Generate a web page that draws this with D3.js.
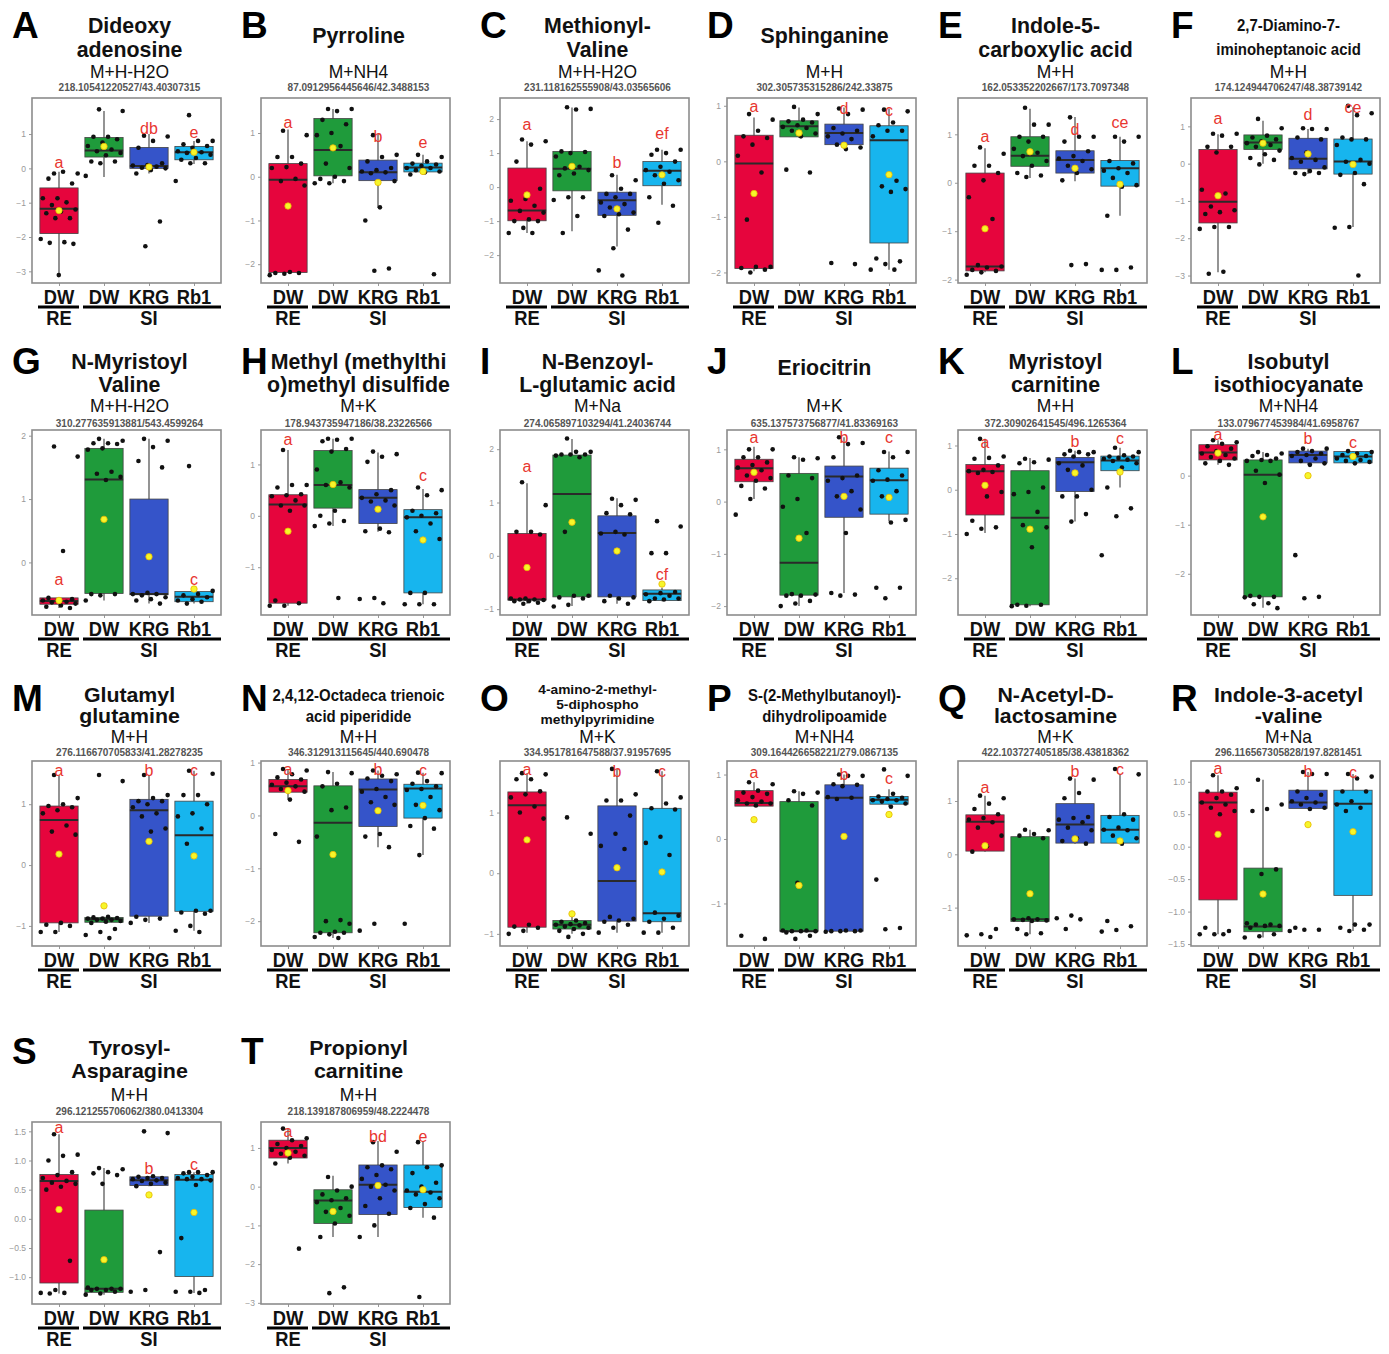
<!DOCTYPE html>
<html>
<head>
<meta charset="utf-8">
<script src="https://cdn.jsdelivr.net/npm/d3@7"></script>
<style>
body { margin: 0; background: #fff; }
text { font-family: "Liberation Sans", Arial, sans-serif; }
</style>
</head>
<body>
<svg id="chart"></svg>
<script>
// panel labels and titles
const panelIds = ["A","B","C","D","E","F","G","H","I","J","K","L","M","N","O","P","Q","R","S","T"];
const titleLines = [
	["Dideoxy","adenosine"], ["Pyrroline"], ["Methionyl-","Valine"], ["Sphinganine"],
	["Indole-5-","carboxylic acid"], ["2,7-Diamino-7-","iminoheptanoic acid"],
	["N-Myristoyl","Valine"], ["Methyl (methylthi","o)methyl disulfide"], ["N-Benzoyl-","L-glutamic acid"],
	["Eriocitrin"], ["Myristoyl","carnitine"], ["Isobutyl","isothiocyanate"],
	["Glutamyl","glutamine"], ["2,4,12-Octadeca trienoic","acid piperidide"],
	["4-amino-2-methyl-","5-diphospho","methylpyrimidine"], ["S-(2-Methylbutanoyl)-","dihydrolipoamide"],
	["N-Acetyl-D-","lactosamine"], ["Indole-3-acetyl","-valine"],
	["Tyrosyl-","Asparagine"], ["Propionyl","carnitine"]
];
const adducts = ["M+H-H2O","M+NH4","M+H-H2O","M+H","M+H","M+H","M+H-H2O","M+K","M+Na","M+K",
	"M+H","M+NH4","M+H","M+H","M+K","M+NH4","M+K","M+Na","M+H","M+H"];
const mzLabels = [
	"218.10541220527/43.40307315", "87.0912956445646/42.3488153", "231.118162555908/43.03565606",
	"302.305735315286/242.33875", "162.053352202667/173.7097348", "174.124944706247/48.38739142",
	"310.277635913881/543.4599264", "178.943735947186/38.23226566", "274.065897103294/41.24036744",
	"635.137573756877/41.83369163", "372.30902641545/496.1265364", "133.079677453984/41.6958767",
	"276.116670705833/41.28278235", "346.312913115645/440.690478", "334.951781647588/37.91957695",
	"309.164426658221/279.0867135", "422.103727405185/38.43818362", "296.116567305828/197.8281451",
	"296.121255706062/380.0413304", "218.139187806959/48.2224478"
];

// groups
const groupNames = ["DW","DW","KRG","Rb1"];
const treatNames = ["RE","SI"];
const groupColors = ["#e6053d","#1f9b3b","#3554c9","#17b5ee"];

// y axes
const yDomains = [
	[-3.34,2.05],[-2.43,1.80],[-2.82,2.62],[-2.19,1.14],[-2.07,1.75],[-3.2,1.76],
	[-0.83,2.09],[-1.93,1.67],[-1.11,2.36],[-2.17,1.37],[-2.83,1.35],[-2.84,0.93],
	[-1.33,1.71],[-2.47,1.03],[-1.2,1.85],[-1.66,1.21],[-1.72,1.75],[-1.53,1.32],
	[-1.46,1.66],[-3.03,1.67]
];
const yTicks = [
	[-3,-2,-1,0,1],[-2,-1,0,1],[-2,-1,0,1,2],[-2,-1,0,1],[-2,-1,0,1],[-3,-2,-1,0,1],
	[0,1,2],[-1,0,1],[-1,0,1,2],[-2,-1,0,1],[-2,-1,0,1],[-2,-1,0],
	[-1,0,1],[-2,-1,0,1],[-1,0,1],[-1,0,1],[-1,0,1],[-1.5,-1,-0.5,0,0.5,1],
	[-1,-0.5,0,0.5,1,1.5],[-3,-2,-1,0,1]
];

// box stats per group: [lower whisker, q1, median, q3, upper whisker]
const boxStats = [
	[[-3.08,-1.9,-1.18,-0.57,-0.1],[-0.25,0.33,0.52,0.9,1.67],[-0.15,0.0,0.07,0.61,1.0],[0.13,0.25,0.47,0.64,0.8]],
	[[-2.19,-2.19,-0.07,0.3,1.08],[-0.15,0.02,0.61,1.33,1.55],[-0.71,-0.09,0.1,0.38,0.98],[0.05,0.11,0.21,0.31,0.5]],
	[[-1.35,-0.99,-0.69,0.56,1.35],[-1.3,-0.11,0.54,1.05,2.34],[-1.75,-0.83,-0.39,-0.15,0.36],[-0.52,0.04,0.48,0.75,1.1]],
	[[-1.98,-1.93,-0.04,0.47,0.79],[0.42,0.44,0.63,0.73,0.97],[0.22,0.3,0.51,0.67,0.97],[-1.95,-1.47,0.38,0.64,0.95]],
	[[-1.85,-1.82,-1.73,0.2,0.71],[0.1,0.34,0.56,0.95,1.53],[0.03,0.2,0.47,0.66,1.36],[-0.68,-0.07,0.3,0.46,0.95]],
	[[-2.91,-1.59,-1.02,0.38,0.79],[0.0,0.38,0.57,0.77,1.15],[-0.28,-0.14,0.13,0.68,0.93],[-1.7,-0.28,0.06,0.66,1.51]],
	[[-0.72,-0.66,-0.61,-0.56,-0.56],[-0.6,-0.49,1.31,1.8,1.95],[-0.65,-0.51,-0.5,1.0,1.95],[-0.65,-0.62,-0.54,-0.46,-0.45]],
	[[-1.75,-1.7,0.22,0.41,1.28],[-0.2,0.15,0.6,1.27,1.5],[-0.31,-0.15,0.35,0.51,1.23],[-1.72,-1.5,-0.03,0.12,0.52]],
	[[-0.9,-0.83,-0.82,0.42,1.36],[-0.94,-0.77,1.16,1.89,2.19],[-0.9,-0.77,0.43,0.75,1.08],[-0.85,-0.84,-0.71,-0.64,-0.6]],
	[[0.05,0.38,0.64,0.81,1.05],[-2.0,-1.79,-1.17,0.54,0.85],[-1.75,-0.3,0.48,0.68,1.23],[-0.38,-0.24,0.41,0.64,0.96]],
	[[-0.98,-0.57,0.42,0.57,1.15],[-2.63,-2.6,-0.63,0.43,0.72],[-0.72,-0.04,0.62,0.73,0.88],[0.05,0.43,0.66,0.76,0.95]],
	[[0.22,0.32,0.47,0.63,0.72],[-2.69,-2.47,0.02,0.32,0.48],[0.22,0.26,0.42,0.5,0.55],[0.25,0.26,0.39,0.49,0.5]],
	[[-1.1,-0.95,0.74,0.97,1.48],[-0.95,-0.94,-0.89,-0.86,-0.85],[-0.95,-0.84,0.9,1.08,1.48],[-1.08,-0.76,0.49,1.05,1.55]],
	[[0.3,0.44,0.55,0.68,0.88],[-2.32,-2.22,-0.14,0.56,0.82],[-0.6,-0.21,0.49,0.69,0.85],[-0.75,-0.05,0.51,0.59,0.81]],
	[[-0.98,-0.89,1.12,1.34,1.65],[-1.0,-0.92,-0.85,-0.78,-0.72],[-0.98,-0.79,-0.13,1.11,1.72],[-0.98,-0.8,-0.66,1.07,1.68]],
	[[0.5,0.51,0.56,0.75,0.88],[-1.43,-1.43,-1.43,0.58,0.74],[-1.44,-1.43,0.64,0.84,1.0],[0.5,0.54,0.61,0.66,0.77]],
	[[0.05,0.06,0.61,0.74,1.1],[-1.5,-1.26,-1.22,0.33,0.46],[0.2,0.21,0.56,0.95,1.42],[0.2,0.21,0.46,0.73,1.5]],
	[[-1.35,-0.82,0.68,0.84,1.1],[-1.4,-1.31,-1.23,-0.33,1.03],[0.58,0.59,0.68,0.87,1.15],[-1.3,-0.75,0.66,0.87,1.12]],
	[[-1.28,-1.1,0.65,0.76,1.45],[-1.3,-1.26,-1.2,0.15,0.87],[0.56,0.57,0.66,0.72,0.73],[-1.27,-0.99,0.67,0.76,0.8]],
	[[0.6,0.74,1.0,1.2,1.5],[-1.3,-0.95,-0.36,-0.08,0.28],[-1.3,-0.72,0.05,0.56,1.18],[-0.8,-0.54,-0.13,0.56,1.18]]
];
const means = [
	[-1.23,0.64,0.04,0.47],[-0.67,0.66,-0.13,0.12],[-0.23,0.61,-0.64,0.36],[-0.58,0.51,0.29,-0.24],
	[-0.95,0.64,0.3,-0.03],[-0.86,0.55,0.26,-0.02],[-0.6,0.68,0.09,-0.42],[-0.3,0.61,0.13,-0.47],
	[-0.22,0.63,0.09,-0.53],[0.56,-0.7,0.1,0.08],[0.1,-0.89,0.38,0.4],[0.46,-0.84,0.0,0.39],
	[0.18,-0.67,0.39,0.15],[0.47,-0.74,0.09,0.19],[0.55,-0.67,0.09,0.02],[0.3,-0.72,0.04,0.38],
	[0.16,-0.74,0.29,0.25],[0.19,-0.73,0.34,0.23],[0.16,-0.7,0.41,0.11],[0.87,-0.64,0.03,-0.08]
];

// significance letters and the value they sit at
const letters = [
	["a","","db","e"],["a","","b","e"],["a","","b","ef"],["a","","d","c"],["a","","d","ce"],["a","","d","ce"],
	["a","","","c"],["a","","","c"],["a","","","cf"],["a","","b","c"],["a","","b","c"],["a","","b","c"],
	["a","","b","c"],["a","","b","c"],["a","","b","c"],["a","","b","c"],["a","","b","c"],["a","","b","c"],
	["a","","b","c"],["a","","bd","e"]
];
const letterY = [
	[0.18,null,1.17,1.05],[1.25,null,0.93,0.79],[1.83,null,0.74,1.59],[0.98,null,0.95,0.92],
	[0.96,null,1.1,1.25],[1.2,null,1.33,1.52],[-0.27,null,null,-0.27],[1.49,null,null,0.79],
	[1.67,null,null,-0.34],[1.22,null,1.22,1.22],[1.07,null,1.1,1.17],[0.84,null,0.76,0.68],
	[1.55,null,1.55,1.55],[0.88,null,0.88,0.86],[1.72,null,1.68,1.68],[1.03,null,1.0,0.94],
	[1.25,null,1.55,1.6],[1.2,null,1.16,1.15],[1.57,null,0.87,0.93],[1.44,null,1.31,1.31]
];

// individual samples per group
const points = [
	[[-0.15,-0.15,-0.1,-0.3,-0.44,-0.87,-0.87,-0.99,-1.07,-1.2,-1.26,-1.31,-1.45,-1.45,-2.06,-2.15,-2.17,-2.2,-3.11],
	 [1.72,1.67,0.92,0.92,0.85,0.75,0.65,0.55,0.5,0.45,0.38,0.2,0.2,0.15,-0.22],
	 [0.95,0.93,0.8,0.6,0.15,0.1,0.08,0.05,0.02,0.0,-0.05,-0.15,-1.55,-2.27],
	 [1.55,0.8,0.8,0.7,0.65,0.6,0.5,0.47,0.45,0.4,0.3,0.25,0.15,0.15,-0.37]],
	[[1.05,0.95,0.45,0.45,0.3,0.22,0.2,-0.05,-0.1,-0.2,-2.18,-2.2,-2.2,-2.22,-2.25],
	 [1.55,1.55,1.5,1.3,1.2,1.0,0.95,0.7,0.3,0.2,0.0,-0.05,-0.1,-0.15,-0.15],
	 [0.95,0.5,0.45,0.35,0.2,0.15,0.12,0.1,0.08,-0.1,-0.7,-1.0,-2.1,-2.15],
	 [0.5,0.45,0.35,0.3,0.28,0.25,0.2,0.2,0.15,0.12,0.1,0.05,-2.23]],
	[[1.4,1.35,1.25,0.75,-0.05,-0.35,-0.4,-0.55,-0.7,-0.75,-0.95,-1.0,-1.0,-1.2,-1.35,-1.35],
	 [2.35,2.3,2.28,1.05,1.03,1.0,0.9,0.6,0.55,0.5,0.4,0.35,-0.3,-0.3,-0.38,-0.85,-1.35],
	 [0.35,0.2,-0.05,-0.2,-0.2,-0.3,-0.45,-0.5,-0.6,-0.75,-0.8,-0.85,-1.25,-1.8,-2.45,-2.6],
	 [1.1,1.1,1.0,0.95,0.75,0.6,0.5,0.45,0.35,0.2,0.1,-0.3,-0.55,-1.05]],
	[[0.85,0.75,0.55,0.45,0.42,0.3,0.1,-0.2,-1.05,-1.9,-1.9,-1.92,-1.95,-2.0],
	 [0.98,0.85,0.75,0.72,0.7,0.65,0.62,0.6,0.55,0.5,0.45,-0.15,-0.2],
	 [0.95,0.93,0.85,0.6,0.55,0.5,0.45,0.4,0.3,0.25,0.22,-1.83,-1.85],
	 [0.93,0.9,0.7,0.65,0.55,0.55,0.45,-0.35,-0.45,-0.5,-0.55,-1.75,-1.8,-1.85,-1.95,-1.95]],
	[[0.73,0.6,0.35,0.35,0.2,0.05,-0.3,-0.75,-1.7,-1.73,-1.75,-1.8,-1.82,-1.85,-1.9],
	 [1.55,1.2,1.2,0.95,0.95,0.85,0.7,0.62,0.55,0.45,0.35,0.2,0.15,0.12],
	 [1.35,0.95,0.95,0.85,0.65,0.55,0.5,0.45,0.35,0.28,0.2,0.05,-1.68,-1.7],
	 [0.95,0.95,0.85,0.45,0.4,0.3,0.25,0.2,0.1,-0.05,-0.08,-0.68,-1.75,-1.8,-1.8]],
	[[0.8,0.8,0.75,0.45,0.45,0.3,-0.7,-0.8,-1.15,-1.25,-1.3,-1.35,-1.7,-1.7,-1.75,-2.9,-2.95],
	 [1.2,0.95,0.75,0.7,0.65,0.6,0.55,0.5,0.45,0.35,0.25,0.15,0.1,-0.02],
	 [0.95,0.93,0.93,0.7,0.65,0.3,0.15,0.1,0.05,-0.1,-0.2,-0.25,-0.25,-0.28],
	 [1.55,1.35,1.3,0.7,0.65,0.65,0.5,0.1,0.05,0.0,-0.25,-0.3,-0.55,-1.7,-1.72,-3.0]],
	[[1.83,1.67,0.18,-0.56,-0.58,-0.6,-0.6,-0.62,-0.63,-0.65,-0.68,-0.7,-0.72],
	 [1.95,1.92,1.88,1.88,1.87,1.8,1.78,1.43,1.4,1.35,1.3,-0.5,-0.5,-0.52,-0.6],
	 [1.95,1.92,1.82,1.6,1.5,-0.48,-0.5,-0.5,-0.52,-0.55,-0.58,-0.6,-0.65],
	 [1.52,-0.45,-0.5,-0.52,-0.55,-0.58,-0.6,-0.62,-0.65]],
	[[1.28,0.6,0.6,0.55,0.42,0.4,0.38,0.3,0.2,0.2,0.1,-1.65,-1.7,-1.75,-1.75],
	 [1.5,1.5,1.48,1.45,1.3,1.25,0.9,0.65,0.6,0.55,0.1,0.0,-0.1,-0.15,-0.2,-1.6],
	 [1.25,1.2,1.15,1.05,0.5,0.42,0.35,0.3,0.28,0.2,-0.25,-0.3,-0.32,-1.6,-1.62,-1.7],
	 [0.55,0.5,0.4,0.1,0.05,0.0,-0.03,-0.15,-0.3,-0.45,-1.5,-1.5,-1.72,-1.72,-1.72]],
	[[1.38,0.95,0.45,0.45,0.4,-0.8,-0.8,-0.82,-0.82,-0.83,-0.85,-0.85,-0.88,-0.9],
	 [2.2,1.95,1.95,1.9,1.9,1.9,1.88,1.85,0.45,-0.75,-0.75,-0.78,-0.8,-0.92,-0.95],
	 [1.07,1.05,0.95,0.8,0.78,0.45,0.42,0.4,-0.75,-0.78,-0.8,-0.85,-0.9],
	 [0.65,0.55,0.05,0.05,-0.68,-0.7,-0.72,-0.75,-0.8,-0.8,-0.82,-0.85]],
	[[1.0,1.0,0.85,0.85,0.75,0.7,0.65,0.6,0.5,0.45,0.4,0.3,0.25,0.05,-0.25],
	 [0.85,0.83,0.8,0.5,0.45,0.05,-0.1,-0.6,-1.77,-1.78,-1.8,-1.8,-1.9,-1.95,-2.0],
	 [1.23,1.12,1.1,0.85,0.5,0.45,0.4,0.2,0.1,-0.15,-0.6,-1.75,-1.78,-1.8],
	 [0.95,0.95,0.85,0.6,0.5,0.42,0.4,0.2,0.1,-0.35,-0.4,-1.65,-1.65,-1.85]],
	[[1.15,0.75,0.72,0.7,0.55,0.45,0.42,0.4,0.38,-0.05,-0.15,-0.7,-0.85,-0.88,-1.0],
	 [0.7,0.68,0.62,0.6,0.05,-0.05,-0.1,-0.5,-0.8,-0.85,-1.3,-2.6,-2.6,-2.62,-2.63],
	 [0.88,0.85,0.85,0.8,0.8,0.75,0.6,0.55,0.45,0.0,-0.15,-0.15,-0.55,-0.72],
	 [0.95,0.85,0.78,0.75,0.75,0.72,0.7,0.68,0.65,0.6,0.5,0.05,-0.42,-0.6,-1.48]],
	[[0.72,0.68,0.65,0.6,0.55,0.5,0.45,0.42,0.38,0.35,0.3,0.25,0.22],
	 [0.48,0.45,0.42,0.4,0.35,0.32,0.3,0.3,0.1,0.02,-0.15,-2.45,-2.47,-2.47,-2.48,-2.6,-2.62,-2.7],
	 [0.55,0.55,0.5,0.48,0.45,0.42,0.4,0.35,0.3,0.25,0.22,-1.62,-2.47,-2.5],
	 [0.5,0.48,0.45,0.42,0.4,0.38,0.35,0.32,0.3,0.28,0.25]],
	[[1.48,1.1,1.0,0.97,0.95,0.9,0.85,0.65,0.55,0.5,-0.95,-0.98,-1.0,-1.1,-1.1],
	 [1.48,1.38,-0.85,-0.86,-0.87,-0.88,-0.88,-0.9,-0.9,-0.92,-0.93,-0.95,-1.05,-1.1,-1.15,-1.2],
	 [1.48,1.15,1.1,1.05,1.05,1.0,0.95,0.85,0.8,0.6,0.55,-0.85,-0.88,-0.9,-0.95],
	 [1.55,1.5,1.15,1.15,1.0,0.85,0.8,0.6,0.35,-0.75,-0.75,-0.78,-0.8,-1.0,-1.08,-1.1]],
	[[0.88,0.85,0.78,0.72,0.68,0.62,0.58,0.55,0.5,0.45,0.3,-0.35,-0.5],
	 [0.82,0.8,0.6,0.55,0.15,0.1,-0.4,-1.98,-2.0,-2.05,-2.2,-2.22,-2.22,-2.25,-2.3,-2.32],
	 [0.85,0.78,0.75,0.7,0.65,0.5,0.45,0.35,0.25,0.2,-0.35,-0.4,-0.6,-2.05,-2.18],
	 [0.81,0.8,0.65,0.6,0.55,0.5,0.48,0.35,0.2,0.1,-0.05,-0.2,-0.25,-0.75,-2.05]],
	[[1.65,1.63,1.55,1.55,1.35,1.3,1.25,1.1,1.0,0.9,-0.85,-0.88,-0.9,-0.95,-1.0],
	 [0.92,0.65,-0.78,-0.8,-0.82,-0.84,-0.85,-0.86,-0.88,-0.9,-0.92,-0.95,-1.0,-1.05],
	 [1.72,1.3,1.2,1.2,0.95,0.65,0.45,0.4,-0.72,-0.75,-0.78,-0.8,-0.85,-0.9,-0.98],
	 [1.68,1.25,1.15,1.07,1.05,0.6,0.5,0.3,-0.65,-0.7,-0.75,-0.8,-0.9,-0.98,-0.98]],
	[[0.88,0.85,0.75,0.72,0.7,0.65,0.6,0.58,0.55,0.55,0.52,-1.5,-1.55],
	 [0.74,0.72,0.7,0.6,0.52,-0.68,-1.42,-1.42,-1.43,-1.43,-1.43,-1.45,-1.5,-1.55],
	 [1.0,0.98,0.98,0.85,0.84,0.82,0.65,0.64,0.62,-1.42,-1.42,-1.43,-1.43,-1.43,-1.44],
	 [1.08,0.98,0.7,0.66,0.64,0.62,0.6,0.6,0.58,0.55,0.5,-0.63,-1.38,-1.4]],
	[[1.1,1.05,0.95,0.85,0.75,0.68,0.65,0.6,0.5,0.35,0.15,0.05,-1.4,-1.5,-1.52,-1.55],
	 [0.46,0.45,0.38,0.35,0.3,-1.2,-1.22,-1.22,-1.23,-1.24,-1.25,-1.4,-1.48,-1.5],
	 [1.42,1.4,1.15,1.05,0.7,0.68,0.65,0.6,0.5,0.45,0.3,0.25,0.2,-1.15,-1.2,-1.22,-1.4],
	 [1.6,1.5,0.75,0.7,0.65,0.5,0.46,0.45,0.35,0.3,0.2,-1.25,-1.35,-1.42,-1.45]],
	[[1.1,0.9,0.85,0.85,0.8,0.75,0.68,0.65,0.6,0.55,0.5,-1.25,-1.3,-1.35,-1.35,-1.35],
	 [1.03,0.65,0.58,0.55,-0.35,-0.42,-1.18,-1.2,-1.2,-1.22,-1.22,-1.25,-1.35,-1.38,-1.4],
	 [1.15,1.12,1.12,0.85,0.8,0.75,0.7,0.68,0.65,0.6,0.58,-1.25,-1.28,-1.28,-1.3],
	 [1.12,1.08,1.05,0.85,0.85,0.7,0.65,0.6,0.55,-1.2,-1.2,-1.25,-1.28,-1.3]],
	[[1.45,1.1,1.08,1.0,0.8,0.75,0.7,0.65,0.62,0.6,0.55,0.5,-0.72,-1.22,-1.27,-1.27,-1.28],
	 [0.87,0.85,0.8,0.78,0.75,0.6,-1.18,-1.2,-1.2,-1.2,-1.22,-1.22,-1.25,-1.28,-1.3],
	 [1.5,1.47,0.73,0.72,0.7,0.7,0.68,0.66,0.65,0.62,0.6,0.56,-0.57,-1.22,-1.25],
	 [0.8,0.8,0.8,0.78,0.75,0.72,0.7,0.68,0.68,0.66,0.58,-0.33,-1.22,-1.25,-1.25,-1.27]],
	[[1.5,1.25,1.2,1.1,1.05,1.0,0.95,0.9,0.85,0.8,0.75,0.6,-1.6],
	 [0.25,0.0,-0.1,-0.2,-0.3,-0.35,-0.4,-0.55,-0.65,-0.75,-0.95,-1.3,-2.6,-2.75],
	 [1.15,0.9,0.55,0.5,0.45,0.3,0.2,0.05,0.0,-0.1,-0.3,-0.5,-0.7,-1.0,-1.3],
	 [1.15,0.55,0.5,0.35,0.1,0.0,-0.1,-0.15,-0.2,-0.3,-0.45,-0.55,-0.8,-2.85]]
];

// layout
const width = 1389, height = 1354;
const colLeft = [32, 261, 500, 727, 958, 1191],
	rowTop = [98, 430, 761, 1122],
	rowH = [185, 185, 185, 182],
	plotW = 189;
// vertical offsets of title pieces above each row's plot box
const rowText = [
	{t: [-73, -49], add: -26, mz: -11, letter: -60, size: 22.5, sx: 0.95},
	{t: [-69, -46], add: -24, mz: -7, letter: -56, size: 22.5, sx: 0.95},
	{t: [-66, -45], add: -24, mz: -9, letter: -50, size: 20.5, sx: 1.04},
	{t: [-74, -51], add: -27, mz: -11, letter: -58, size: 21, sx: 1.02}
];
const smallTitles = ["F", "N", "O", "P"];

const svg = d3.select("#chart").attr("width", width).attr("height", height);

// narrow-looking text: scale horizontally like the condensed font in the figure
function narrowText(g, x, y, str, size, weight, sx, fill) {
	return g.append("text")
		.attr("transform", `translate(${x},${y}) scale(${sx},1)`)
		.attr("text-anchor", "middle")
		.attr("dy", "0.35em")
		.attr("font-size", size)
		.attr("font-weight", weight)
		.attr("fill", fill)
		.text(str);
}

function jitter(j) {
	return ((j * 0.618034 + 0.37) % 1) - 0.5;
}

function drawPanel(i) {
	const row = Math.floor(i / 6), col = i % 6,
		rt = rowText[row],
		left = colLeft[col], top = rowTop[row],
		plotH = rowH[row],
		cx = left + plotW / 2 + 3;

	// panel letter
	svg.append("text")
		.attr("x", left - 20)
		.attr("y", top + rt.letter)
		.attr("font-size", 37)
		.attr("font-weight", "bold")
		.attr("fill", "#000")
		.text(panelIds[i]);

	// title lines
	const lines = titleLines[i],
		small = smallTitles.includes(panelIds[i]);
	let ys, size = rt.size, sx = rt.sx;
	if (lines.length == 1) { ys = [-63]; size = 22.5; sx = 0.95; }
	else if (lines.length == 3) { ys = [-72, -57, -42]; size = 13.5; sx = 1.02; }
	else ys = rt.t;
	if (small && lines.length == 2) { size = 17; sx = 0.88; }
	lines.forEach((l, k) => narrowText(svg, cx, top + ys[k], l, size, "bold", sx, "#111"));
	narrowText(svg, cx, top + rt.add, adducts[i], 18, "normal", 0.97, "#111");
	narrowText(svg, cx, top + rt.mz, mzLabels[i], 10, "bold", 1, "#555");

	const g = svg.append("g").attr("transform", `translate(${left},${top})`);

	const x = d3.scalePoint().domain([0, 1, 2, 3]).range([0, plotW]).padding(0.6),
		y = d3.scaleLinear().domain(yDomains[i]).range([plotH, 0]),
		step = x.step(),
		bw = step * 0.85;

	g.append("rect").attr("width", plotW).attr("height", plotH).attr("fill", "#fff");

	// y axis
	const fmt = yTicks[i].some(v => !Number.isInteger(v)) ? d3.format(".1f") : d3.format("d");
	const ya = g.append("g").call(d3.axisLeft(y).tickValues(yTicks[i]).tickSize(3).tickFormat(fmt));
	ya.select(".domain").remove();
	ya.selectAll("line").attr("stroke", "#999");
	ya.selectAll("text").attr("fill", "#999").attr("font-size", 8.5).attr("font-family", "Liberation Sans");

	const xa = g.append("g").attr("transform", `translate(0,${plotH})`)
		.call(d3.axisBottom(x).tickSize(3).tickFormat(""));
	xa.select(".domain").remove();
	xa.selectAll("line").attr("stroke", "#999");

	boxStats[i].forEach((s, k) => {
		const gx = x(k);
		// whisker
		g.append("line")
			.attr("x1", gx).attr("x2", gx)
			.attr("y1", y(s[0])).attr("y2", y(s[4]))
			.attr("stroke", "#5a5a5a").attr("stroke-width", 1.3);
		g.append("rect")
			.attr("x", gx - bw / 2).attr("width", bw)
			.attr("y", y(s[3])).attr("height", Math.max(1, y(s[1]) - y(s[3])))
			.attr("fill", groupColors[k])
			.attr("stroke", "#444").attr("stroke-width", 0.8);
		g.append("line")
			.attr("x1", gx - bw / 2).attr("x2", gx + bw / 2)
			.attr("y1", y(s[2])).attr("y2", y(s[2]))
			.attr("stroke", "#2a2a2a").attr("stroke-width", 2);

		g.selectAll(null).data(points[i][k]).join("circle")
			.attr("cx", (d, j) => gx + jitter(j) * step * 0.85)
			.attr("cy", d => y(d))
			.attr("r", 2.3)
			.attr("fill", "#111");

		g.append("circle")
			.attr("cx", gx).attr("cy", y(means[i][k]))
			.attr("r", 3.2)
			.attr("fill", "#f6f62a")
			.attr("stroke", "#e8b800").attr("stroke-width", 0.8);

		if (letters[i][k]) {
			g.append("text")
				.attr("x", gx).attr("y", y(letterY[i][k]))
				.attr("dy", "0.35em")
				.attr("text-anchor", "middle")
				.attr("font-size", 16)
				.attr("fill", "#e8362f")
				.text(letters[i][k]);
		}
	});

	// panel border
	g.append("rect").attr("width", plotW).attr("height", plotH)
		.attr("fill", "none").attr("stroke", "#8c8c8c").attr("stroke-width", 1.6);

	// group labels and treatment bars
	groupNames.forEach((n, k) => narrowText(g, x(k), plotH + 14, n, 19.5, "bold", 0.94, "#111"));
	g.append("line")
		.attr("x1", x(0) - 21).attr("x2", x(0) + 20)
		.attr("y1", plotH + 24).attr("y2", plotH + 24)
		.attr("stroke", "#000").attr("stroke-width", 3.2);
	g.append("line")
		.attr("x1", x(1) - 21).attr("x2", x(3) + 27)
		.attr("y1", plotH + 24).attr("y2", plotH + 24)
		.attr("stroke", "#000").attr("stroke-width", 3.2);
	narrowText(g, x(0), plotH + 35, treatNames[0], 19.5, "bold", 0.94, "#111");
	narrowText(g, x(2), plotH + 35, treatNames[1], 19.5, "bold", 0.94, "#111");
}

panelIds.forEach((id, i) => drawPanel(i));
</script>
</body>
</html>
